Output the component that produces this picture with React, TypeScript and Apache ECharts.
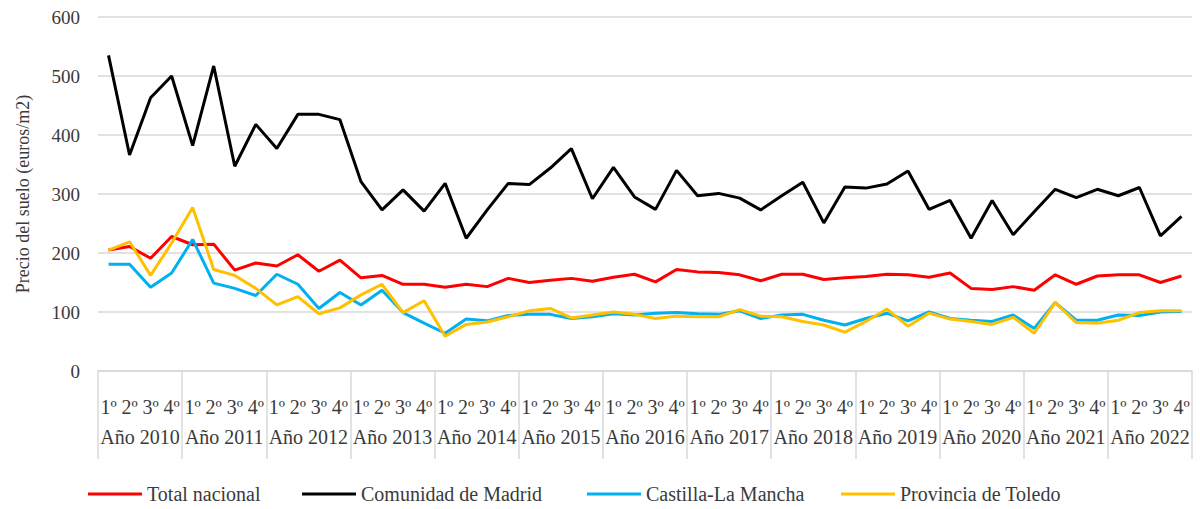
import React, { useEffect, useRef } from "react";
import * as echarts from "echarts";

const years = ["Año 2010","Año 2011","Año 2012","Año 2013","Año 2014","Año 2015","Año 2016","Año 2017","Año 2018","Año 2019","Año 2020","Año 2021","Año 2022"];
const quarterLabels = ["1º","2º","3º","4º"];
const quarters: string[] = [];
years.forEach((y) => quarterLabels.forEach((q) => quarters.push(q + " " + y)));

const totalNacional = [205,211,191,228,214,215,171,183,178,197,169,188,158,162,147,147,142,147,143,157,150,154,157,152,159,164,151,172,168,167,163,153,164,164,155,158,160,164,163,159,166,140,138,143,137,163,147,161,163,163,150,161];
const comunidadMadrid = [535,366,463,500,382,517,347,418,377,435,435,426,321,273,307,271,318,225,273,318,316,344,377,292,345,295,274,340,297,301,293,273,297,320,251,312,310,317,339,274,289,225,289,231,270,308,294,308,297,311,229,262];
const castillaLaMancha = [181,181,142,166,223,149,140,128,164,147,106,133,112,137,99,81,64,88,85,94,96,96,89,92,97,95,98,99,97,96,102,89,95,96,86,78,89,98,85,100,89,86,84,95,72,116,86,86,95,94,100,101];
const provinciaToledo = [205,219,162,217,277,172,162,140,112,126,97,107,129,147,99,119,59,79,83,92,102,106,90,95,100,96,89,93,92,92,104,93,92,84,78,66,84,105,76,98,88,84,79,91,64,116,82,81,86,99,102,102];
const yTicks = [0, 100, 200, 300, 400, 500, 600];

const FONT = "Liberation Serif";
const TEXT = "#3a3a3a";
const GRIDC = "#d9d9d9";

export default function App() {
  const ref = useRef<HTMLDivElement>(null);
  useEffect(() => {
    if (!ref.current) return;
    const chart = echarts.init(ref.current, null, { renderer: "svg" });
    const series = [
      { name: "Total nacional", data: totalNacional, color: "#FF0000" },
      { name: "Comunidad de Madrid", data: comunidadMadrid, color: "#000000" },
      { name: "Castilla-La Mancha", data: castillaLaMancha, color: "#00B0F0" },
      { name: "Provincia de Toledo", data: provinciaToledo, color: "#FFC000" },
    ];
    const legendLefts = [88, 302, 587, 841];
    chart.setOption({
      animation: false,
      textStyle: { fontFamily: FONT },
      grid: { left: 98, right: 8, top: 17, bottom: 138, containLabel: false },
      legend: series.map((s, i) => ({
        data: [s.name],
        left: legendLefts[i],
        top: 484,
        padding: 0,
        itemWidth: 54,
        itemHeight: 3,
        itemGap: 0,
        icon: "rect",
        textStyle: { fontFamily: FONT, fontSize: 20, color: TEXT },
      })),
      xAxis: [
        {
          type: "category",
          data: quarters,
          boundaryGap: true,
          axisLine: { show: true, lineStyle: { color: GRIDC, width: 1.5 } },
          axisTick: { show: false },
          axisLabel: {
            interval: 0,
            margin: 26,
            fontSize: 20,
            color: TEXT,
            fontFamily: FONT,
            formatter: (v: string) => v.split(" ")[0],
          },
        },
        {
          type: "category",
          data: years,
          position: "bottom",
          boundaryGap: true,
          axisLine: { show: false },
          axisTick: { show: true, interval: 0, length: 88, lineStyle: { color: GRIDC, width: 1.5 } },
          axisLabel: { interval: 0, margin: 56, fontSize: 20, color: TEXT, fontFamily: FONT },
        },
      ],
      yAxis: {
        type: "value",
        min: yTicks[0],
        max: yTicks[yTicks.length - 1],
        interval: 100,
        name: "Precio del suelo (euros/m2)",
        nameLocation: "middle",
        nameGap: 66,
        nameTextStyle: { fontFamily: FONT, fontSize: 18, color: TEXT },
        axisLine: { show: false },
        axisTick: { show: false },
        axisLabel: { margin: 18, fontSize: 19, color: TEXT, fontFamily: FONT },
        splitLine: { lineStyle: { color: GRIDC, width: 1.5 } },
      },
      series: series.map((s) => ({
        name: s.name,
        type: "line",
        data: s.data,
        xAxisIndex: 0,
        symbol: "none",
        color: s.color,
        lineStyle: { width: 3, color: s.color },
      })),
    });
    return () => chart.dispose();
  }, []);
  return <div ref={ref} style={{ width: 1200, height: 509, position: "absolute", left: 0, top: 0 }} />;
}
